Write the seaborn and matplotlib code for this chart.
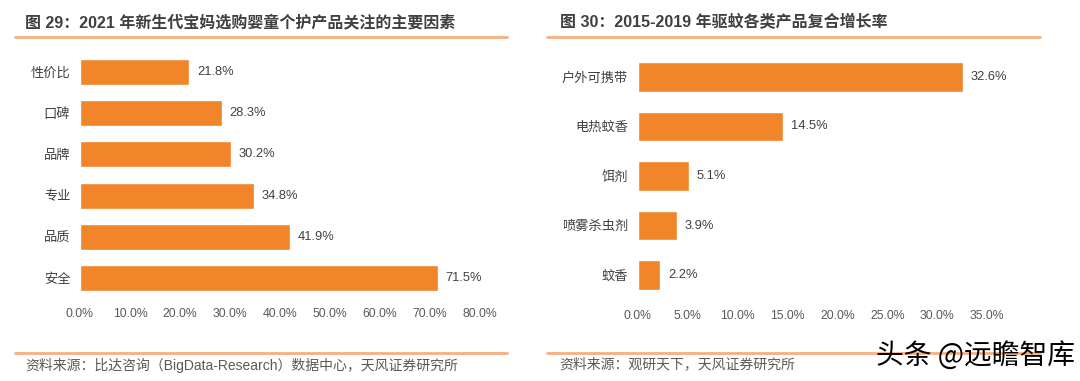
import matplotlib
matplotlib.use("Agg")
import matplotlib.pyplot as plt
import seaborn as sns
import pandas as pd
from matplotlib.lines import Line2D
from matplotlib.ticker import FuncFormatter, MultipleLocator

# 图29 data
factors = ["性价比", "口碑", "品牌", "专业", "品质", "安全"]
factor_pct = [21.8, 28.3, 30.2, 34.8, 41.9, 71.5]

# 图30 data
products = ["户外可携带", "电热蚊香", "饵剂", "喷雾杀虫剂", "蚊香"]
cagr_pct = [32.6, 14.5, 5.1, 3.9, 2.2]

sns.set_theme(style="white")
plt.rcParams["font.family"] = ["Liberation Sans", "Noto Sans CJK SC", "DejaVu Sans"]

BAR = "#F0852A"
LINE = "#F5B07E"
TXT = "#404040"
TICK = "#595959"

fig = plt.figure(figsize=(10.8, 3.81), dpi=100)
W, H = 1080, 381


def px_axes(x0, y0, x1, y1):
    return fig.add_axes([x0 / W, 1 - y1 / H, (x1 - x0) / W, (y1 - y0) / H])


def hline(x0, x1, y):
    fig.add_artist(Line2D([x0 / W, x1 / W], [1 - y / H, 1 - y / H],
                          color=LINE, lw=2, transform=fig.transFigure))


def style(ax, xmax, step):
    ax.set_xlim(0, xmax)
    ax.xaxis.set_major_locator(MultipleLocator(step))
    ax.xaxis.set_major_formatter(FuncFormatter(lambda v, p: f"{v:.1f}%"))
    ax.tick_params(axis="x", length=0, pad=7, labelsize=8.8, labelcolor=TICK)
    ax.tick_params(axis="y", length=0, pad=7, labelsize=9.5, labelcolor=TXT)
    ax.set_xlabel("")
    ax.set_ylabel("")
    sns.despine(ax=ax, left=True, bottom=True)
    ax.patch.set_alpha(0)


# left panel
ax1 = px_axes(80, 51.4, 480, 298.6)
df1 = pd.DataFrame({"factor": factors, "pct": factor_pct})
sns.barplot(data=df1, x="pct", y="factor", orient="h", color=BAR,
            saturation=1, width=0.63, ax=ax1)
style(ax1, 80, 10)
for i, v in enumerate(factor_pct):
    ax1.text(v + 1.6, i, f"{v:.1f}%", va="center", ha="left", fontsize=9.3, color=TXT)

# right panel
ax2 = px_axes(638, 52.2, 987, 299.8)
df2 = pd.DataFrame({"product": products, "pct": cagr_pct})
sns.barplot(data=df2, x="pct", y="product", orient="h", color=BAR,
            saturation=1, width=0.6, ax=ax2)
style(ax2, 35, 5)
for i, v in enumerate(cagr_pct):
    ax2.text(v + 0.8, i, f"{v:.1f}%", va="center", ha="left", fontsize=9.3, color=TXT)

# titles, rules, sources
fig.text(25 / W, 1 - 22 / H, "图 29：2021 年新生代宝妈选购婴童个护产品关注的主要因素",
         fontsize=11.5, fontweight="bold", color=TXT, va="center", ha="left")
fig.text(560 / W, 1 - 22 / H, "图 30：2015-2019 年驱蚊各类产品复合增长率",
         fontsize=11.5, fontweight="bold", color=TXT, va="center", ha="left")
hline(15, 507, 37)
hline(547, 1040, 37)
hline(15, 507, 353)
hline(547, 1040, 353)
fig.text(25 / W, 1 - 365 / H, "资料来源：比达咨询（BigData-Research）数据中心，天风证券研究所",
         fontsize=10, color=TICK, va="center", ha="left")
fig.text(559 / W, 1 - 364 / H, "资料来源：观研天下，天风证券研究所",
         fontsize=10, color=TICK, va="center", ha="left")
fig.text(1075 / W, 1 - 356 / H, "头条 @远瞻智库", fontsize=20, color="black",
         va="center", ha="right", family=["Noto Sans CJK SC", "DejaVu Sans"])

fig.savefig("out.png", dpi=100, facecolor="white")
